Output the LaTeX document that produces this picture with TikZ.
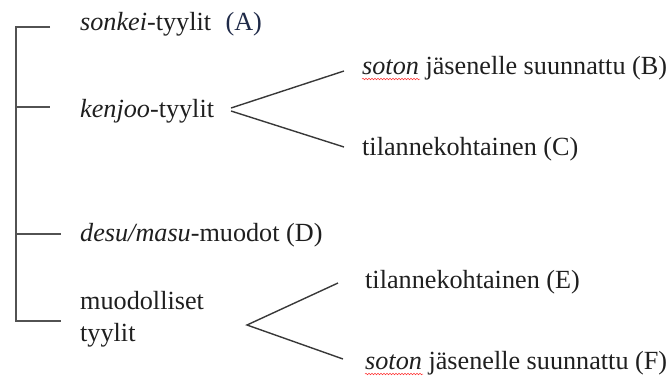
\documentclass[tikz,border=0pt]{standalone}
\usepackage{fontspec}
\setmainfont{Liberation Serif}
\usetikzlibrary{decorations.pathmorphing}
\begin{document}
\begin{tikzpicture}[x=1pt,y=-1pt,
  lbl/.style={anchor=base west,inner sep=0pt,font=\fontsize{26.2}{30}\selectfont,text=black!88},
  brk/.style={draw=black!68,line width=1.6pt},
  fork/.style={draw=black!78,line width=1.4pt},
  spell/.style={draw=red!80,line width=0.5pt,decorate,decoration={snake,amplitude=0.8pt,segment length=3pt}}]
\useasboundingbox (0,0) rectangle (670,376);
% texts
\node[lbl] (A) at (80,30) {\textit{sonkei}-tyylit\hspace{0.3em} \textcolor[HTML]{1F2A48}{(A)}};
\node[lbl] (K) at (80,117) {\textit{kenjoo}-tyylit};
\node[lbl] (B) at (362,74) {\textit{soton} jäsenelle suunnattu (B)};
\node[lbl] (C) at (362,155) {tilannekohtainen (C)};
\node[lbl] (D) at (80,241) {\textit{desu/masu}-muodot (D)};
\node[lbl] (M1) at (80,309) {muodolliset};
\node[lbl] (M2) at (80,341) {tyylit};
\node[lbl] (E) at (365,288) {tilannekohtainen (E)};
\node[lbl] (F) at (365,369) {\textit{soton} jäsenelle suunnattu (F)};
% spell-check marks
\draw[spell] ([yshift=-5pt]B.base west) -- ++(58,0);
\draw[spell] ([yshift=-5pt]F.base west) -- ++(58,0);
% bracket
\coordinate (top) at (16,27);
\coordinate (bot) at (16,321);
\coordinate (sk) at (16,107);
\coordinate (sd) at (16,234);
\coordinate (tA) at (50,27);
\coordinate (tK) at (50,107);
\coordinate (tD) at (61,234);
\coordinate (tM) at (61,321);
\draw[brk] (tA) -- (top) -- (bot) -- (tM);
\draw[brk] (sk) -- (tK);
\draw[brk] (sd) -- (tD);
% forks
\coordinate (k1) at (231,108);
\coordinate (k2) at (231,111);
\coordinate (kB) at (344,71);
\coordinate (kC) at (344,147);
\draw[fork] (k1) -- (kB);
\draw[fork] (k2) -- (kC);
\coordinate (mv) at (247,325);
\coordinate (mE) at (338,283);
\coordinate (mF) at (343,359);
\draw[fork] (mE) -- (mv) -- (mF);
\end{tikzpicture}
\end{document}
